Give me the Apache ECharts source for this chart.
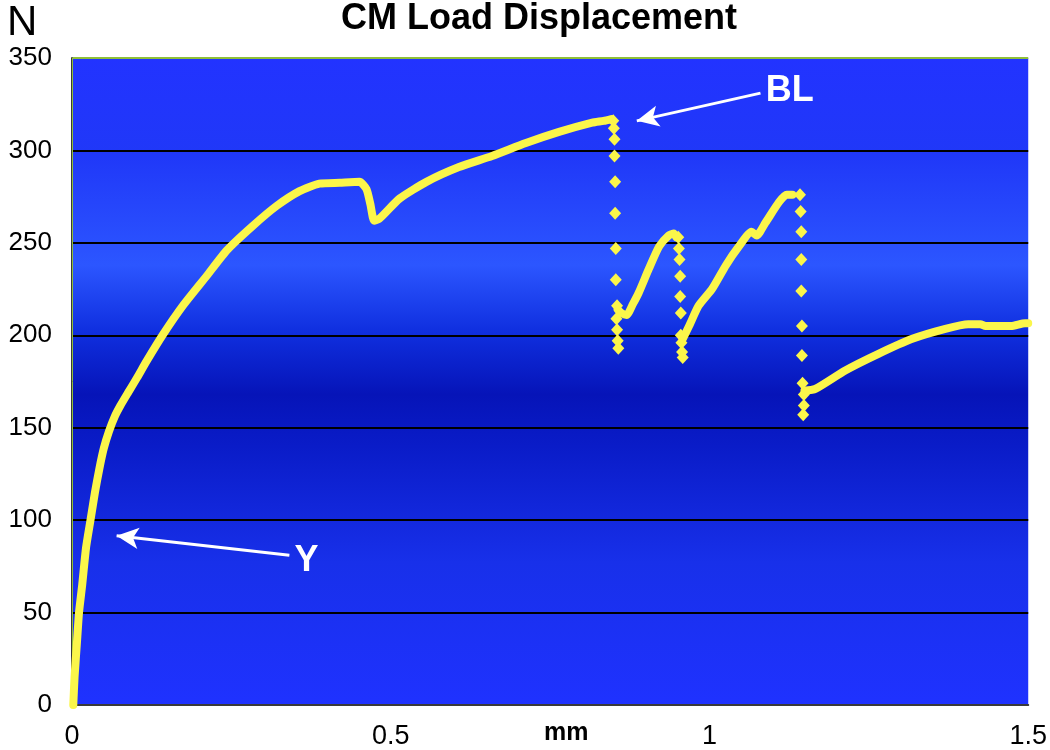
<!DOCTYPE html>
<html>
<head>
<meta charset="utf-8">
<script src="https://cdn.jsdelivr.net/npm/echarts@6/dist/echarts.min.js"></script>
<style>
html,body{margin:0;padding:0;background:#fff;}
#chart{width:1050px;height:750px;}
</style>
</head>
<body>
<div id="chart"></div>
<script>
// ---- data (mm, N) ----
const titleText = 'CM Load Displacement';
const xTicks = [0, 0.5, 1, 1.5];
const yTicks = [0, 50, 100, 150, 200, 250, 300, 350];

const rise1 = [[0.002,0],[0.004,15],[0.008,35],[0.011,50],[0.016,65],[0.022,85],[0.029,100],[0.036,115],
  [0.043,128],[0.050,139],[0.058,148],[0.067,156],[0.076,162],[0.088,169],[0.102,177],[0.117,186],
  [0.142,200],[0.174,216],[0.211,232],[0.243,246],[0.283,259],[0.321,270],[0.357,278],[0.388,282],
  [0.42,282.5],[0.451,283],[0.462,279],[0.468,271],[0.474,262],[0.482,263],[0.514,274],[0.556,283],
  [0.607,291],[0.659,297],[0.712,304],[0.764,310],[0.816,315],[0.834,316],[0.846,317]];
const drop1 = [[0.849,316],[0.850,312],[0.851,306],[0.851,297],[0.852,283],[0.852,266],[0.853,247],
  [0.853,230],[0.855,216],[0.854,209],[0.855,203],[0.856,197],[0.857,193]];
const rise2 = [[0.856,214],[0.862,212],[0.870,211],[0.880,217],[0.889,223],[0.905,236],[0.921,248],
  [0.936,254],[0.944,255],[0.948,253]];
const drop2 = [[0.951,253],[0.952,247],[0.953,241],[0.954,232],[0.954,221],[0.955,212],[0.955,200],
  [0.956,196],[0.957,191],[0.958,188]];
const rise3 = [[0.958,198],[0.968,205],[0.983,216],[1.004,225],[1.026,238],[1.046,248],[1.066,256],
  [1.074,254],[1.088,261],[1.109,272],[1.121,276],[1.130,276]];
const drop3 = [[1.142,276],[1.143,267],[1.144,256],[1.144,241],[1.144,224],[1.145,205],[1.145,189],
  [1.146,174],[1.148,168],[1.148,162],[1.147,157]];
const rise4 = [[1.149,170],[1.166,171],[1.213,181],[1.265,190],[1.317,198],[1.370,203.5],[1.406,206],
  [1.425,206],[1.433,205],[1.473,205],[1.495,206.5],[1.5,206.5]];

const blArrow = [[1.080,331],[0.886,316]];
const yArrow = [[0.341,81],[0.070,91.5]];
const blLabel = [1.126,332];
const yLabel = [0.368,77.6];

// ---- chart ----
const FONT = '"Liberation Sans", Arial, sans-serif';
const YEL = '#fbf64a';
const chart = echarts.init(document.getElementById('chart'));

const segs = [rise1, rise2, rise3, rise4];
const series = segs.map((s, i) => ({
  type: 'line', data: s, showSymbol: false, symbol: 'none', smooth: 0.2,
  lineStyle: {color: YEL, width: 8, cap: 'round', join: 'round'},
  z: 3, silent: true
}));
series.push({
  type: 'scatter', data: [].concat(drop1, drop2, drop3),
  symbol: 'diamond', symbolSize: [12, 13],
  itemStyle: {color: YEL, opacity: 1}, z: 4, silent: true,
  markLine: {
    silent: true, symbol: ['none', 'arrow'], symbolSize: [16, 22],
    lineStyle: {color: '#ffffff', width: 3, type: 'solid'},
    label: {show: false},
    data: [
      [{coord: blArrow[0]}, {coord: blArrow[1]}],
      [{coord: yArrow[0]}, {coord: yArrow[1]}]
    ]
  },
  markPoint: {
    silent: true, symbol: 'rect', symbolSize: 1,
    itemStyle: {color: 'rgba(0,0,0,0)'},
    label: {show: true, position: 'inside', color: '#fff', fontSize: 36, fontWeight: 'bold', fontFamily: FONT},
    data: [
      {coord: blLabel, label: {formatter: 'BL'}},
      {coord: yLabel, label: {formatter: 'Y'}}
    ]
  }
});

const option = {
  animation: false,
  backgroundColor: '#ffffff',
  title: {
    text: titleText, left: 534, top: -4, textAlign: 'center',
    textStyle: {fontSize: 36, fontWeight: 'bold', color: '#000', fontFamily: FONT}
  },
  graphic: [
    {type: 'text', left: 7, top: 2, style: {text: 'N', fontSize: 42, fontFamily: FONT, fill: '#000'}},
    {type: 'text', left: 544, top: 721, style: {text: 'mm', fontSize: 25, fontWeight: 'bold', fontFamily: FONT, fill: '#000'}}
  ],
  grid: {
    left: 72, right: 20, top: 58, bottom: 42, show: true, borderWidth: 0,
    backgroundColor: new echarts.graphic.LinearGradient(0, 0, 0, 1, [
      {offset: 0, color: '#2233ff'},
      {offset: 0.15, color: '#2038f8'},
      {offset: 0.32, color: '#2c56ff'},
      {offset: 0.42, color: '#1030e0'},
      {offset: 0.52, color: '#0614b8'},
      {offset: 0.6, color: '#0a1cc8'},
      {offset: 0.78, color: '#1830ea'},
      {offset: 1, color: '#1f32ff'}
    ])
  },
  xAxis: [{
    type: 'value', min: 0, max: 1.5, interval: 0.5,
    axisLine: {show: true, onZero: false, lineStyle: {color: '#3a3a3a', width: 2}},
    axisTick: {show: false},
    splitLine: {show: false},
    axisLabel: {fontSize: 27, color: '#000', fontFamily: FONT, margin: 18,
      formatter: v => xTicks.includes(v) ? String(v) : ''}
  }],
  yAxis: [{
    type: 'value', min: 0, max: 350, interval: 50,
    axisLine: {show: true, onZero: false, lineStyle: {color: '#3a3a3a', width: 2}},
    axisTick: {show: false},
    splitLine: {show: true, lineStyle: {color: ['#000','#000','#000','#000','#000','#000','#000','#8fbf3a'], width: 2}},
    axisLabel: {fontSize: 26, color: '#000', fontFamily: FONT, margin: 20,
      formatter: v => yTicks.includes(v) ? String(v) : ''}
  }, {
    type: 'value', min: 0, max: 350, interval: 50, position: 'right',
    axisLine: {show: true, lineStyle: {color: '#8fbf3a', width: 1}},
    axisTick: {show: false}, axisLabel: {show: false}, splitLine: {show: false}
  }],
  series: series
};
chart.setOption(option);
</script>
</body>
</html>
